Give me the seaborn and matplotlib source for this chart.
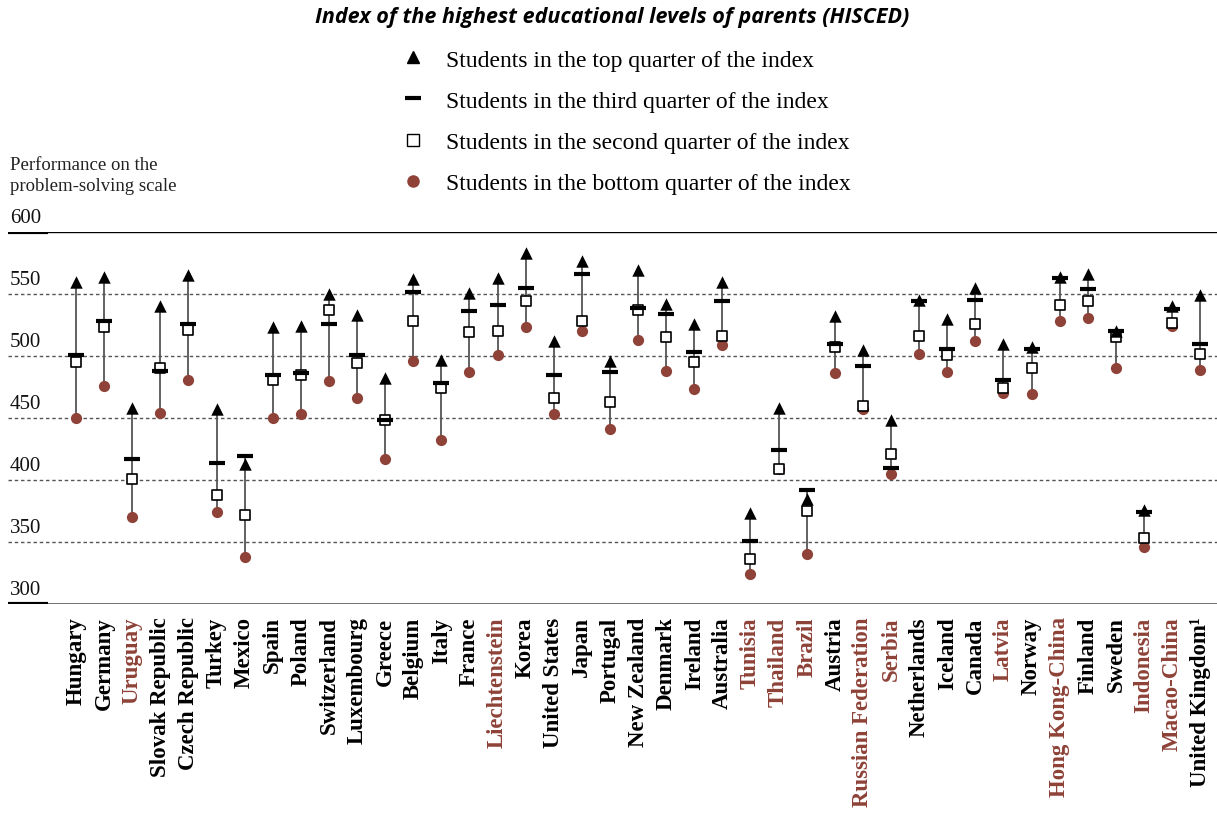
import matplotlib
matplotlib.use("Agg")
import matplotlib.pyplot as plt
from matplotlib.lines import Line2D
import seaborn as sns
import pandas as pd

countries = ["Hungary", "Germany", "Uruguay", "Slovak Republic", "Czech Republic", "Turkey",
             "Mexico", "Spain", "Poland", "Switzerland", "Luxembourg", "Greece", "Belgium",
             "Italy", "France", "Liechtenstein", "Korea", "United States", "Japan", "Portugal",
             "New Zealand", "Denmark", "Ireland", "Australia", "Tunisia", "Thailand", "Brazil",
             "Austria", "Russian Federation", "Serbia", "Netherlands", "Iceland", "Canada",
             "Latvia", "Norway", "Hong Kong-China", "Finland", "Sweden", "Indonesia",
             "Macao-China", "United Kingdom¹"]

partners = ["Uruguay", "Liechtenstein", "Tunisia", "Thailand", "Brazil", "Russian Federation",
            "Serbia", "Latvia", "Hong Kong-China", "Indonesia", "Macao-China"]

top_q = [560, 564, 458, 540, 565, 457, 413, 523, 524, 550, 533, 482, 562, 497, 551, 563, 583,
         512, 577, 496, 569, 542, 526, 560, 373, 458, 385, 532, 505, 448, 545, 530, 555, 510,
         507, 564, 566, 520, 376, 540, 549]
third_q = [501, 528, 417, 488, 526, 414, 419, 485, 486, 526, 501, 448, 552, 478, 536, 541, 555,
           485, 566, 487, 539, 534, 503, 544, 351, 424, 392, 510, 492, 410, 544, 506, 545, 481,
           506, 563, 554, 520, 374, 538, 510]
second_q = [495, 523, 401, 490, 521, 388, 372, 481, 485, 537, 494, 448, 528, 474, 519, 520, 544,
            466, 528, 463, 537, 515, 495, 516, 336, 409, 375, 507, 460, 421, 516, 501, 526, 474,
            490, 541, 544, 515, 353, 527, 502]
bottom_q = [450, 476, 370, 454, 481, 374, 338, 450, 453, 480, 466, 417, 496, 432, 487, 501, 523,
            453, 520, 441, 513, 488, 473, 509, 324, 409, 340, 486, 457, 405, 502, 487, 512, 470,
            469, 528, 531, 490, 346, 524, 489]

yticks = [300, 350, 400, 450, 500, 550, 600]

df = pd.DataFrame({"country": countries, "top": top_q, "third": third_q,
                   "second": second_q, "bottom": bottom_q})
df["x"] = range(len(df))
df["lo"] = df[["top", "third", "second", "bottom"]].min(axis=1)
df["hi"] = df[["top", "third", "second", "bottom"]].max(axis=1)

sns.set_style("white")
plt.rcParams["font.family"] = ["Liberation Serif", "DejaVu Serif"]
plt.rcParams["text.color"] = "black"

red = "#8e4238"

fig = plt.figure(figsize=(12.17, 8.2), dpi=100)
ax = fig.add_axes([8 / 1217, 1 - 605 / 820, 1 - 8 / 1217, (605 - 233) / 820])

# grid lines
for v in yticks[1:-1]:
    ax.axhline(v, color="#555555", lw=1, ls=(0, (2.5, 2)), zorder=0)
ax.axhline(600, color="black", lw=1, zorder=0)
ax.axhline(300, color="#666666", lw=2, zorder=0)
ax.plot([-2.5, -1.0], [600, 600], color="black", lw=3, solid_capstyle="butt", zorder=1)
ax.plot([-2.5, -1.0], [300, 300], color="black", lw=3, solid_capstyle="butt", zorder=1)

# vertical range lines
ax.vlines(df["x"], df["lo"], df["hi"], color="#555555", lw=1.3, zorder=1)

sns.scatterplot(data=df, x="x", y="bottom", ax=ax, color=red, s=65, linewidth=0, zorder=2)
sns.scatterplot(data=df, x="x", y="second", ax=ax, marker="s", color="white",
                edgecolor="black", linewidth=1.2, s=60, zorder=3)
sns.scatterplot(data=df, x="x", y="third", ax=ax, marker="_", color="black",
                linewidth=3, s=135, zorder=4)
sns.scatterplot(data=df, x="x", y="top", ax=ax, marker="^", color="black",
                linewidth=0, s=80, zorder=5)

ax.set_xlim(-2.42, 40.6)
ax.set_ylim(300, 600)
sns.despine(ax=ax, left=True, bottom=True)
ax.set_xlabel("")
ax.set_ylabel("")
ax.set_yticks([])
ax.set_xticks(df["x"])
ax.set_xticklabels(countries, rotation=90, fontsize=16.5, fontweight="bold")
ax.tick_params(axis="x", length=0, pad=9)
for lab in ax.get_xticklabels():
    lab.set_verticalalignment("top")
    lab.set_color(red if lab.get_text() in partners else "black")

for v in yticks:
    ax.text(-2.35, v + 4.0, str(v), fontsize=15, ha="left", va="bottom", color="#111111")

fig.text(10 / 1217, 1 - 176 / 820, "Performance on the\nproblem-solving scale",
         fontsize=13.5, ha="left", va="center", linespacing=1.3, color="#222222")

fig.text(612 / 1217, 1 - 18 / 820, "Index of the highest educational levels of parents (HISCED)",
         family="Open Sans", fontsize=15.5, fontweight="bold", fontstyle="italic",
         ha="center", va="center")

handles = [
    Line2D([], [], marker="^", color="black", ls="none", markersize=8),
    Line2D([], [], marker="_", color="black", ls="none", markersize=12, mew=3),
    Line2D([], [], marker="s", markerfacecolor="white", markeredgecolor="black",
           ls="none", markersize=8, mew=1),
    Line2D([], [], marker="o", color=red, ls="none", markersize=8),
]
labels = ["Students in the top quarter of the index",
          "Students in the third quarter of the index",
          "Students in the second quarter of the index",
          "Students in the bottom quarter of the index"]
leg = fig.legend(handles, labels, loc="upper left", bbox_to_anchor=(399 / 1217, 1 - 50 / 820),
                 frameon=False, fontsize=17, labelspacing=0.83, handlelength=1.2,
                 handletextpad=0.8, borderaxespad=0, borderpad=0)
for t in leg.get_texts():
    t.set_color("black")

fig.savefig("out.png", dpi=100)
